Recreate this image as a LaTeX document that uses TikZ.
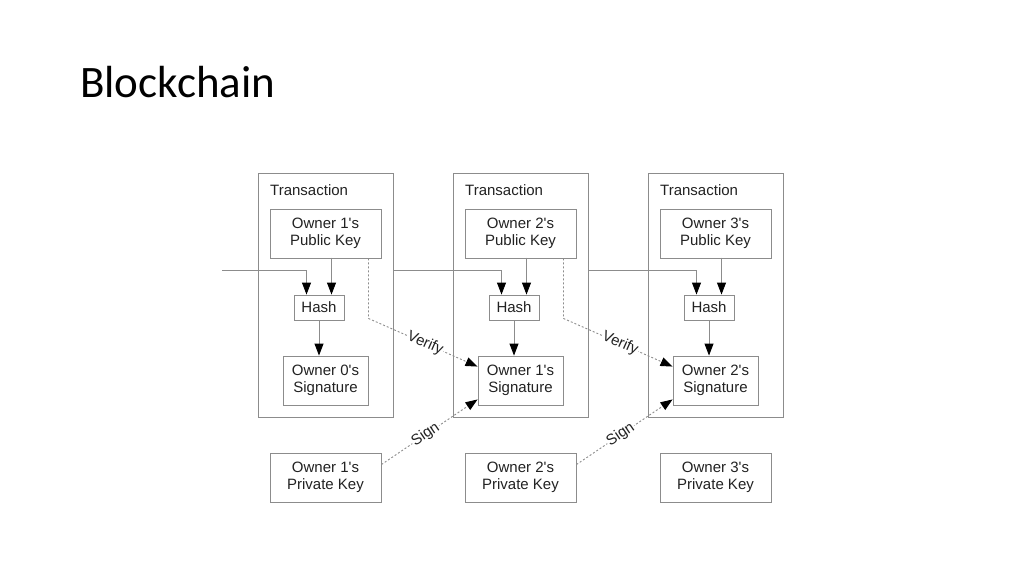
\documentclass[tikz,border=0pt]{standalone}
\usepackage{fontspec}
\setmainfont{Liberation Sans}[Ligatures=TeXOff]
\newfontfamily\titlefont{Carlito}
\usetikzlibrary{arrows.meta,calc}
\definecolor{boxgray}{HTML}{8C8C8C}
\definecolor{txtgray}{HTML}{222222}
\begin{document}
\begin{tikzpicture}[x=1pt,y=-1pt,
  every node/.style={text=txtgray,font=\fontsize{15}{17}\selectfont},
  tbox/.style={draw=boxgray,line width=0.9pt,minimum width=135pt,minimum height=244pt,inner sep=0pt},
  kbox/.style={draw=boxgray,line width=0.9pt,minimum width=111pt,minimum height=49pt,align=center,inner sep=0pt},
  hbox/.style={draw=boxgray,line width=0.9pt,minimum width=50pt,minimum height=25pt,inner sep=0pt},
  sbox/.style={draw=boxgray,line width=0.9pt,minimum width=85pt,minimum height=49pt,align=center,inner sep=0pt},
  arr/.style={draw=boxgray,line width=0.9pt,-{Triangle[length=12pt,width=9pt,fill=black,color=black]}},
  dotl/.style={draw=boxgray,line width=0.9pt,dash pattern=on 2pt off 2pt},
  lbl/.style={sloped,fill=white,inner sep=1pt}
]
\useasboundingbox[fill=white] (0,0) rectangle (1024,574);
\node[anchor=base west,inner sep=0pt,font=\titlefont\fontsize{45}{50}\selectfont,text=black] (title) at (80,97) {Blockchain};

\foreach \i/\d in {1/0,2/195,3/390}{
  \node[tbox] (t\i) at (325.5+\d,295) {};
  \node[anchor=base west,inner sep=0pt] (tl\i) at (270+\d,195) {Transaction};
  \node[hbox] (h\i) at (319+\d,307.5) {Hash};
  \node[kbox] (priv\i) at (325.5+\d,477.5) {};
}
\node[kbox] (pub1) at (325.5,233.5) {Owner 1's\\Public Key};
\node[kbox] (pub2) at (520.5,233.5) {Owner 2's\\Public Key};
\node[kbox] (pub3) at (715.5,233.5) {Owner 3's\\Public Key};
\node[sbox] (sig1) at (325.5,380.5) {Owner 0's\\Signature};
\node[sbox] (sig2) at (520.5,380.5) {Owner 1's\\Signature};
\node[sbox] (sig3) at (715.5,380.5) {Owner 2's\\Signature};
\node[kbox] at (priv1) {Owner 1's\\Private Key};
\node[kbox] at (priv2) {Owner 2's\\Private Key};
\node[kbox] at (priv3) {Owner 3's\\Private Key};

\coordinate (in0) at (222,270);
\coordinate (c1) at (t1.east |- in0);
\coordinate (c2) at (t2.east |- in0);
\draw[arr] (in0) -| ($(h1.north)+(-12.5,0)$);
\draw[arr] (c1) -| ($(h2.north)+(-12.5,0)$);
\draw[arr] (c2) -| ($(h3.north)+(-12.5,0)$);
\foreach \i in {1,2,3}{
  \draw[arr] ($(h\i.north)+(12.5,0)$) ++(0,-37) -- ($(h\i.north)+(12.5,0)$);
  \draw[arr] (h\i.south) -- (h\i.south |- sig\i.north);
}
\draw[arr,dotl] ($(pub1.south east)+(-13,0)$) -- ++(0,60)
  -- node[lbl,pos=0.52] {Verify} ($(sig2.north west)+(0,11)$);
\draw[arr,dotl] ($(pub2.south east)+(-13,0)$) -- ++(0,60)
  -- node[lbl,pos=0.52] {Verify} ($(sig3.north west)+(0,11)$);
\draw[arr,dotl] ($(priv1.north east)+(0,12)$) -- node[lbl,pos=0.46] {Sign} ($(sig2.south west)+(0,-6)$);
\draw[arr,dotl] ($(priv2.north east)+(0,12)$) -- node[lbl,pos=0.46] {Sign} ($(sig3.south west)+(0,-6)$);
\end{tikzpicture}
\end{document}
